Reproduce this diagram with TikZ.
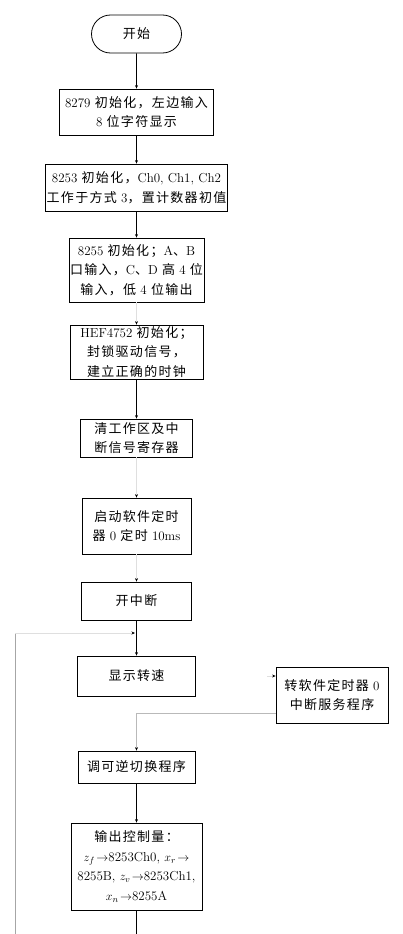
\documentclass[tikz,border=0pt]{standalone}
\usepackage{fontspec}
\newfontfamily\cjk[LetterSpace=10]{Noto Sans CJK SC}
\newcommand{\zh}[1]{{\cjk #1}}
\usetikzlibrary{arrows.meta,shapes.misc}
\begin{document}
\begin{tikzpicture}[x=1pt,y=-1pt,
  font=\fontsize{13}{19.5}\selectfont,
  box/.style={draw, line width=0.8pt, align=center, inner sep=1pt},
  term/.style={draw, line width=0.8pt, rounded rectangle, minimum width=92pt, minimum height=38pt, inner sep=1pt},
  conn/.style={line width=0.8pt, -{Stealth[length=3.5pt,width=3pt,color=black]}},
  faint/.style={conn, draw=gray!25},
  grayline/.style={line width=0.8pt, draw=gray!55},
]
\useasboundingbox (0,0) rectangle (403,934);

\node[term] (start) at (136.5,34) {\zh{开始}};
\node[box, minimum width=154pt, minimum height=46pt] (b1) at (136.5,112)
  {8279 \zh{初始化，左边输入}\\8 \zh{位字符显示}};
\node[box, minimum width=176pt, minimum height=47pt] (b2) at (136.5,187.5)
  {8253 \zh{初始化，}Ch0, Ch1, Ch2\\\zh{工作于方式} 3\zh{，置计数器初值}};
\node[box, minimum width=134pt, minimum height=64pt] (b3) at (136.5,270)
  {8255 \zh{初始化；}A\zh{、}B\\\zh{口输入，}C\zh{、}D \zh{高} 4 \zh{位}\\\zh{输入，低} 4 \zh{位输出}};
\node[box, minimum width=133pt, minimum height=54pt] (b4) at (136.5,352)
  {HEF4752 \zh{初始化；}\\\zh{封锁驱动信号，}\\\zh{建立正确的时钟}};
\node[box, minimum width=112pt, minimum height=38pt] (b5) at (136.5,438)
  {\zh{清工作区及中}\\\zh{断信号寄存器}};
\node[box, minimum width=109pt, minimum height=56pt] (b6) at (136.5,526)
  {\zh{启动软件定时}\\\zh{器} 0 \zh{定时} 10ms};
\node[box, minimum width=110pt, minimum height=38pt] (b7) at (136.5,601)
  {\zh{开中断}};
\node[box, minimum width=118pt, minimum height=40pt] (b8) at (136.5,676)
  {\zh{显示转速}};
\node[box, minimum width=112pt, minimum height=56pt] (r) at (332,695)
  {\zh{转软件定时器} 0\\\zh{中断服务程序}};
\node[box, minimum width=117pt, minimum height=32pt] (b9) at (136.5,767)
  {\zh{调可逆切换程序}};
\node[box, minimum width=131pt, minimum height=87pt] (b10) at (136.5,866.5)
  {\zh{输出控制量：}\\$z_f\!\rightarrow$8253Ch0, $x_r\!\rightarrow$\\8255B, $z_v\!\rightarrow$8253Ch1,\\$x_n\!\rightarrow$8255A};

\coordinate (lb) at (15,934);
\coordinate (lt) at (15,633);
\coordinate (jn) at (135,633);
\coordinate (rin) at (267,676);
\coordinate (rturn) at (136.5,713);
\coordinate (bend) at (136.5,934);

\draw[conn] (start) -- (b1);
\draw[conn] (b1) -- (b2);
\draw[conn] (b2) -- (b3);
\draw[faint] (b3) -- (b4);
\draw[conn] (b4) -- (b5);
\draw[faint] (b5) -- (b6);
\draw[faint] (b6) -- (b7);
\draw[conn] (b7) -- (b8);
\draw[line width=0.8pt, draw=gray!70] (lb) -- (lt);
\draw[faint] (lt) -- (jn);
\draw[faint] (rin) -- (rin -| r.west);
\draw[grayline] (r.west |- rturn) -- (rturn);
\draw[conn, draw=gray!55] (rturn) -- (b9);
\draw[conn] (b9) -- (b10);
\draw[line width=0.8pt] (b10) -- (bend);
\end{tikzpicture}
\end{document}
